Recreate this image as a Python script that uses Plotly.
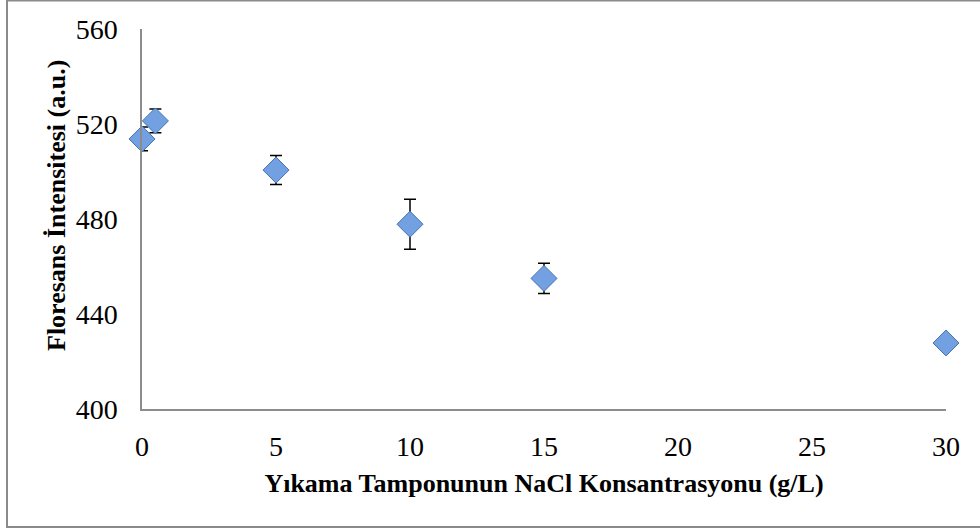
import plotly.graph_objects as go

# Data
nacl = [0, 0.5, 5, 10, 15, 30]
intensity = [513.7, 521.3, 500.6, 477.8, 455.0, 427.8]
err = [5.0, 5.0, 6.1, 10.5, 6.4, 0.0]

x_ticks = [0, 5, 10, 15, 20, 25, 30]
y_ticks = [400, 440, 480, 520, 560]

FONT = "Liberation Serif, Times New Roman, serif"

fig = go.Figure()
fig.add_trace(go.Scatter(
    x=nacl, y=intensity, mode="markers", cliponaxis=False,
    marker=dict(symbol="diamond", size=20, color="#72A0E0",
                line=dict(color="#4274B5", width=1)),
    error_y=dict(type="data", array=err, visible=True, color="black",
                 thickness=1.5, width=6),
    showlegend=False,
))

W, H = 980, 531
L, R, T, B = 142, 34, 29, 122
pw, ph = W - L - R, H - T - B

def px_x(p):
    return (p - L) / pw

def px_y(p):
    return (H - B - p) / ph

fig.add_shape(type="rect", xref="paper", yref="paper",
              x0=px_x(7), x1=px_x(995), y0=px_y(527), y1=px_y(0.5),
              line=dict(color="#8a8a8a", width=2), fillcolor="rgba(0,0,0,0)",
              layer="below")

fig.add_annotation(text="<b>Floresans İntensitesi (a.u.)</b>", textangle=-90,
                   xref="paper", yref="paper", x=px_x(56), y=px_y(206),
                   xanchor="center", yanchor="middle", showarrow=False,
                   font=dict(size=26, family=FONT, color="black"))

fig.update_layout(
    width=W, height=H,
    margin=dict(l=L, r=R, t=T, b=B, pad=0, autoexpand=False),
    plot_bgcolor="white", paper_bgcolor="white",
    font=dict(family=FONT, color="black", size=22),
    xaxis=dict(range=[0, 30], tickvals=x_ticks, ticktext=[str(v) for v in x_ticks],
               showgrid=False, zeroline=False, showline=True,
               linecolor="#8c8c8c", linewidth=1.5,
               ticks="outside", ticklen=12, tickcolor="rgba(0,0,0,0)",
               tickfont=dict(size=28, family=FONT),
               title=dict(text="<b>Yıkama Tamponunun NaCl Konsantrasyonu (g/L)</b>",
                          font=dict(size=26, family=FONT), standoff=12)),
    yaxis=dict(range=[400, 560], tickvals=y_ticks, ticktext=[str(v) for v in y_ticks],
               showgrid=False, zeroline=False, showline=True,
               linecolor="#8c8c8c", linewidth=1.5,
               ticks="outside", ticklen=17, tickcolor="rgba(0,0,0,0)",
               tickfont=dict(size=28, family=FONT)),
)

fig.write_html("out.html", config={"displayModeBar": False},
               post_script="document.body.style.margin='0';")
